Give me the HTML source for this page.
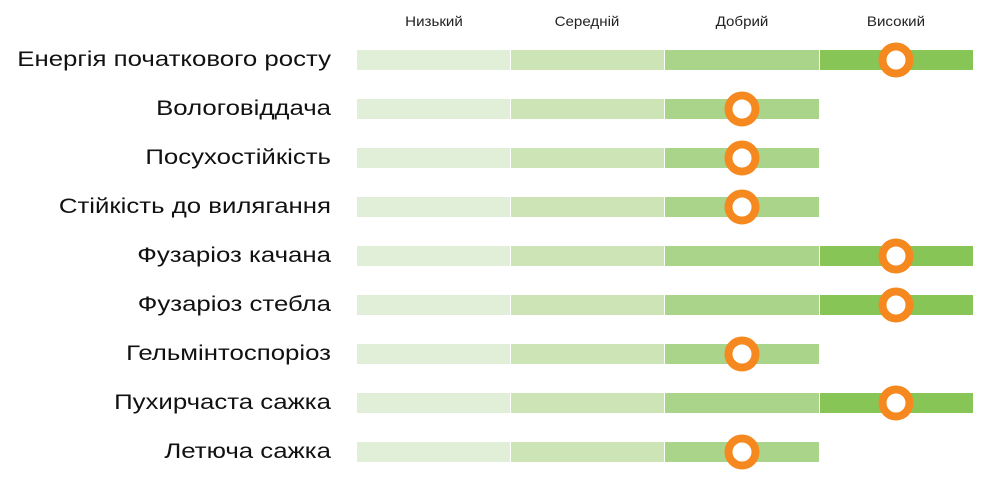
<!DOCTYPE html>
<html><head><meta charset="utf-8"><style>
html,body{margin:0;padding:0;background:#fff;}
svg{display:block}
text{font-family:"Liberation Sans",Arial,sans-serif;}
</style></head><body>
<svg width="982" height="478" viewBox="0 0 982 478" xmlns="http://www.w3.org/2000/svg">
<defs>
<g id="b3">
<rect x="357" y="0" width="153" height="20" fill="#e2efd8"/>
<rect x="511" y="0" width="153" height="20" fill="#cde4b7"/>
<rect x="665" y="0" width="154" height="20" fill="#aad48a"/>
<circle cx="742" cy="10" r="13.5" fill="#fff" stroke="#f5891f" stroke-width="8"/>
</g>
<g id="b4">
<rect x="357" y="0" width="153" height="20" fill="#e2efd8"/>
<rect x="511" y="0" width="153" height="20" fill="#cde4b7"/>
<rect x="665" y="0" width="154" height="20" fill="#aad48a"/>
<rect x="820" y="0" width="153" height="20" fill="#88c557"/>
<circle cx="896" cy="10" r="13.5" fill="#fff" stroke="#f5891f" stroke-width="8"/>
</g>
</defs>
<g font-size="14" fill="#222" text-anchor="middle" transform="translate(0 0)">
<text x="434" y="26" transform="translate(434 0) scale(1.08 1) translate(-434 0)">Низький</text>
<text x="587" y="26" transform="translate(587 0) scale(1.08 1) translate(-587 0)">Середній</text>
<text x="742" y="26" transform="translate(742 0) scale(1.08 1) translate(-742 0)">Добрий</text>
<text x="896" y="26" transform="translate(896 0) scale(1.08 1) translate(-896 0)">Високий</text>
</g>
<use href="#b4" y="50"/>
<use href="#b3" y="99"/>
<use href="#b3" y="148"/>
<use href="#b3" y="197"/>
<use href="#b4" y="246"/>
<use href="#b4" y="295"/>
<use href="#b3" y="344"/>
<use href="#b4" y="393"/>
<use href="#b3" y="442"/>
<g font-size="21.5" fill="#111" text-anchor="end" transform="translate(331 0) scale(1.2 1) translate(-331 0)">
<text x="331" y="66">Енергія початкового росту</text>
<text x="331" y="115">Вологовіддача</text>
<text x="331" y="164">Посухостійкість</text>
<text x="331" y="213">Стійкість до вилягання</text>
<text x="331" y="262">Фузаріоз качана</text>
<text x="331" y="311">Фузаріоз стебла</text>
<text x="331" y="360">Гельмінтоспоріоз</text>
<text x="331" y="409">Пухирчаста сажка</text>
<text x="331" y="458">Летюча сажка</text>
</g>
</svg>
</body></html>
